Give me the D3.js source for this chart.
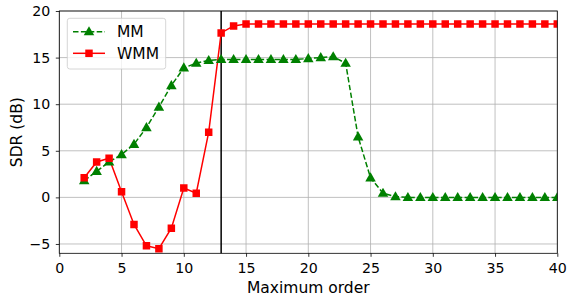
<!DOCTYPE html>
<html><head><meta charset="utf-8">
<script src="https://cdn.jsdelivr.net/npm/d3@7"></script>
<style>body{margin:0;background:#fff}svg{display:block}text{font-family:"DejaVu Sans",sans-serif}</style>
</head><body>
<svg id="c" width="568" height="302"></svg>
<script>
const orders = d3.range(2, 41);
const mm = [1.8,2.8,3.8,4.6,5.7,7.5,9.7,12.0,13.9,14.4,14.7,14.8,14.8,14.8,14.8,14.8,14.8,14.8,14.9,15.0,15.1,14.4,6.5,2.1,0.45,0.08,0,0,0,0,0,0,0,0,0,0,0,0,0];
const wmm = [2.1,3.8,4.2,0.6,-2.9,-5.2,-5.5,-3.3,1.0,0.45,7.0,17.65,18.4,18.6,18.6,18.6,18.6,18.6,18.6,18.6,18.6,18.6,18.6,18.6,18.6,18.6,18.6,18.6,18.6,18.6,18.6,18.6,18.6,18.6,18.6,18.6,18.6,18.6,18.6];
const xTicks = [0,5,10,15,20,25,30,35,40];
const yTicks = [-5,0,5,10,15,20];
const vline = 13;

const svg = d3.select("#c");
const L=59.3,R=557.3,T=11,B=253.3;
const x = d3.scaleLinear().domain([0,40]).range([L,R]);
const y = d3.scaleLinear().domain([-6,20]).range([B,T]);

// grid
svg.append("g").selectAll("line").data(xTicks).join("line")
 .attr("x1",d=>x(d)).attr("x2",d=>x(d)).attr("y1",T).attr("y2",B)
 .attr("stroke","#b0b0b0").attr("stroke-width",0.8);
svg.append("g").selectAll("line").data(yTicks).join("line")
 .attr("y1",d=>y(d)).attr("y2",d=>y(d)).attr("x1",L).attr("x2",R)
 .attr("stroke","#b0b0b0").attr("stroke-width",0.8);

// vertical line
svg.append("line").attr("x1",x(vline)).attr("x2",x(vline)).attr("y1",T).attr("y2",B)
 .attr("stroke","#000").attr("stroke-width",1.5);

svg.append("clipPath").attr("id","cl").append("rect").attr("x",L).attr("y",T).attr("width",R-L).attr("height",B-T);
const plot = svg.append("g").attr("clip-path","url(#cl)");

const line = d3.line().x(d=>x(d[0])).y(d=>y(d[1]));
const mmData = orders.map((o,i)=>[o,mm[i]]);
const wmmData = orders.map((o,i)=>[o,wmm[i]]);

plot.append("path").attr("d",line(mmData)).attr("fill","none").attr("stroke","green").attr("stroke-width",1.5).attr("stroke-dasharray","5.5,2.4");
plot.append("path").attr("d",line(wmmData)).attr("fill","none").attr("stroke","red").attr("stroke-width",1.5);

const tri = d3.symbol().type(d3.symbolTriangle).size(48);
const sq = d3.symbol().type(d3.symbolSquare).size(56);
plot.append("g").selectAll("path").data(mmData).join("path")
 .attr("d",tri).attr("transform",d=>`translate(${x(d[0])},${y(d[1])+0.6})`).attr("fill","green");
plot.append("g").selectAll("path").data(wmmData).join("path")
 .attr("d",sq).attr("transform",d=>`translate(${x(d[0])},${y(d[1])})`).attr("fill","red");

// frame
svg.append("rect").attr("x",L).attr("y",T).attr("width",R-L).attr("height",B-T).attr("fill","none").attr("stroke","#000").attr("stroke-width",0.8);

// axes
const xa = svg.append("g").attr("transform",`translate(0,${B})`).call(d3.axisBottom(x).tickValues(xTicks).tickSize(3.5).tickPadding(6.3).tickFormat(d3.format("d")));
const ya = svg.append("g").attr("transform",`translate(${L},0)`).call(d3.axisLeft(y).tickValues(yTicks).tickSize(3.5).tickPadding(5.5).tickFormat(d=>d<0?"\u2212"+(-d):d));
[xa,ya].forEach(a=>{a.select(".domain").remove();a.selectAll("text").attr("font-size",14.2).attr("font-family","DejaVu Sans").attr("fill","#000");a.selectAll("line").attr("stroke","#000").attr("stroke-width",0.8);});

svg.append("text").attr("x",(L+R)/2).attr("y",293).attr("text-anchor","middle").attr("font-size",15.5).text("Maximum order");
svg.append("text").attr("transform",`translate(21.5,${(T+B)/2}) rotate(-90)`).attr("text-anchor","middle").attr("font-size",15.5).text("SDR (dB)");

// legend
const lg = svg.append("g");
lg.append("rect").attr("x",67.3).attr("y",18.3).attr("width",98.4).attr("height",50.7).attr("rx",2.5)
 .attr("fill","#fff").attr("fill-opacity",0.8).attr("stroke","#cccccc").attr("stroke-width",0.8);
const items=[{n:"MM",c:"green",dash:"5.5,2.4",sym:tri,dy:0.6,y:31.7},{n:"WMM",c:"red",dash:null,sym:sq,dy:0,y:53.3}];
items.forEach(it=>{
 lg.append("line").attr("x1",73).attr("x2",105).attr("y1",it.y).attr("y2",it.y).attr("stroke",it.c).attr("stroke-width",1.5).attr("stroke-dasharray",it.dash);
 lg.append("path").attr("d",it.sym).attr("transform",`translate(89,${it.y+it.dy})`).attr("fill",it.c);
 lg.append("text").attr("x",117).attr("y",it.y+5.6).attr("font-size",15.5).text(it.n);
});
</script>
</body></html>
